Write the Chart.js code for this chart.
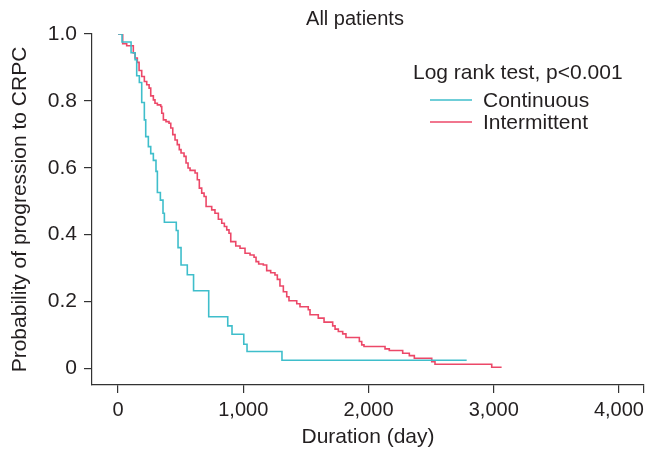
<!DOCTYPE html>
<html>
<head>
<meta charset="utf-8">
<script src="https://cdn.jsdelivr.net/npm/chart.js@4.4.0/dist/chart.umd.min.js"></script>
<style>
  html, body { margin: 0; padding: 0; background: #fff; }
  #wrap { width: 650px; height: 454px; }
</style>
</head>
<body>
<div id="wrap"><canvas id="c" width="650" height="454"></canvas></div>
<script>
// ---- Data ----
const contDays = [0, 32, 104, 136, 149, 170, 189, 210, 221, 242, 261, 282, 303, 314, 338, 359, 370, 465, 479, 503, 553, 603, 724, 876, 910, 1004, 1030, 1309, 2784];
const contProb = [1.0, 0.976, 0.944, 0.923, 0.875, 0.855, 0.795, 0.743, 0.693, 0.663, 0.642, 0.622, 0.589, 0.526, 0.503, 0.464, 0.437, 0.412, 0.361, 0.309, 0.280, 0.232, 0.154, 0.127, 0.102, 0.072, 0.050, 0.024, 0.024];

const interDays = [0, 37, 69, 122, 136, 154, 168, 189, 210, 229, 248, 261, 282, 295, 314, 341, 349, 362, 383, 407, 421, 437, 455, 473, 489, 503, 527, 543, 559, 575, 615, 633, 649, 668, 687, 703, 748, 774, 801, 828, 849, 868, 886, 900, 940, 974, 1014, 1054, 1086, 1102, 1123, 1160, 1187, 1219, 1253, 1272, 1293, 1320, 1347, 1365, 1427, 1453, 1519, 1533, 1599, 1645, 1714, 1733, 1759, 1794, 1820, 1927, 1946, 1964, 2132, 2166, 2273, 2326, 2366, 2505, 2531, 2984, 3063];
const interProb = [1.0, 0.971, 0.965, 0.943, 0.928, 0.915, 0.891, 0.873, 0.858, 0.848, 0.838, 0.815, 0.803, 0.793, 0.788, 0.783, 0.763, 0.743, 0.738, 0.733, 0.719, 0.699, 0.683, 0.669, 0.654, 0.644, 0.634, 0.614, 0.599, 0.592, 0.584, 0.564, 0.539, 0.524, 0.514, 0.484, 0.474, 0.464, 0.446, 0.434, 0.424, 0.414, 0.404, 0.379, 0.366, 0.359, 0.344, 0.339, 0.332, 0.319, 0.312, 0.309, 0.292, 0.286, 0.279, 0.266, 0.246, 0.229, 0.214, 0.202, 0.193, 0.184, 0.175, 0.160, 0.150, 0.138, 0.127, 0.117, 0.110, 0.103, 0.092, 0.080, 0.070, 0.065, 0.058, 0.053, 0.045, 0.038, 0.030, 0.020, 0.012, 0.003, 0.003];

const xTicks = [0, 1000, 2000, 3000, 4000, 4200];
const xTickLabels = ['0', '1,000', '2,000', '3,000', '4,000', ''];
const yTicks = [0, 0.2, 0.4, 0.6, 0.8, 1.0];
const yTickLabels = ['0', '0.2', '0.4', '0.6', '0.8', '1.0'];

const seriesNames = ['Continuous', 'Intermittent'];
const titleText = 'All patients';
const legendHeader = 'Log rank test, p<0.001';
const xTitle = 'Duration (day)';
const yTitle = 'Probability of progression to CRPC';

const TEAL = '#3fbecb';
const RED = '#ec4868';
const INK = '#231f20';
const FONT = '"Liberation Sans", Arial, Helvetica, sans-serif';

const toPts = (xs, ys) => xs.map((x, i) => ({ x: x, y: ys[i] }));

const overlay = {
  id: 'overlay',
  afterDraw(chart) {
    const ctx = chart.ctx;
    ctx.save();
    ctx.fillStyle = INK;
    ctx.textBaseline = 'alphabetic';
    ctx.font = '20px ' + FONT;
    ctx.textAlign = 'center';
    ctx.fillText(titleText, 355, 25);
    ctx.textAlign = 'left';
    ctx.font = '21px ' + FONT;
    ctx.fillText(legendHeader, 413, 79);
    const rows = [{ c: TEAL, y: 100, ty: 107, t: seriesNames[0] }, { c: RED, y: 122, ty: 128.5, t: seriesNames[1] }];
    rows.forEach(r => {
      ctx.strokeStyle = r.c;
      ctx.lineWidth = 1.5;
      ctx.beginPath();
      ctx.moveTo(430, r.y);
      ctx.lineTo(472, r.y);
      ctx.stroke();
      ctx.fillStyle = INK;
      ctx.fillText(r.t, 483, r.ty);
    });
    ctx.restore();
  }
};

new Chart(document.getElementById('c'), {
  type: 'line',
  data: {
    datasets: [
      { label: seriesNames[0], data: toPts(contDays, contProb), borderColor: TEAL, borderWidth: 1.6, stepped: 'before', pointRadius: 0, fill: false },
      { label: seriesNames[1], data: toPts(interDays, interProb), borderColor: RED, borderWidth: 1.6, stepped: 'before', pointRadius: 0, fill: false }
    ]
  },
  options: {
    responsive: false,
    animation: false,
    devicePixelRatio: 1,
    layout: { padding: { top: 34, right: 6, left: 0, bottom: 0 } },
    plugins: { legend: { display: false }, title: { display: false }, tooltip: { enabled: false } },
    scales: {
      x: {
        type: 'linear',
        min: -208,
        max: 4200,
        afterBuildTicks: (axis) => { axis.ticks = xTicks.map(v => ({ value: v })); },
        afterFit: (axis) => { axis.height = 69; },
        ticks: {
          color: INK,
          font: { family: FONT, size: 20 },
          padding: 5,
          maxRotation: 0,
          autoSkip: false,
          callback: (v) => { const i = xTicks.indexOf(v); return i >= 0 ? xTickLabels[i] : ''; }
        },
        grid: { display: true, drawOnChartArea: false, drawTicks: true, tickLength: 8, color: '#333', lineWidth: 1.2 },
        border: { display: true, color: '#333', width: 1.2 },
        title: { display: true, text: xTitle, color: INK, font: { family: FONT, size: 21 }, padding: { top: 0, bottom: 4 } }
      },
      y: {
        type: 'linear',
        min: -0.05,
        max: 1.0,
        afterBuildTicks: (axis) => { axis.ticks = yTicks.map(v => ({ value: v })); },
        afterFit: (axis) => { axis.width = 92; },
        ticks: {
          color: INK,
          font: { family: FONT, size: 21 },
          padding: 7,
          autoSkip: false,
          callback: (v) => { const i = yTicks.findIndex(t => Math.abs(t - v) < 1e-9); return i >= 0 ? yTickLabels[i] : ''; }
        },
        grid: { display: true, drawOnChartArea: false, drawTicks: true, tickLength: 8, color: '#333', lineWidth: 1.2 },
        border: { display: true, color: '#333', width: 1.2 },
        title: { display: true, text: yTitle, color: INK, font: { family: FONT, size: 21 }, padding: { top: 8, bottom: 0 } }
      }
    }
  },
  plugins: [overlay]
});
</script>
</body>
</html>
